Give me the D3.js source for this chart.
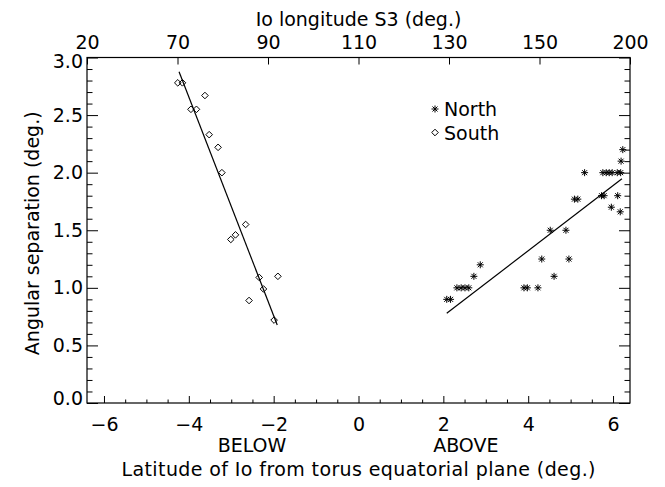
<!DOCTYPE html>
<html>
<head>
<meta charset="utf-8">
<script src="https://cdn.jsdelivr.net/npm/d3@7"></script>
<style>
  html, body { margin: 0; padding: 0; background: #fff; }
  svg text { font-family: "DejaVu Sans", sans-serif; font-size: 19px; fill: #000; }
</style>
</head>
<body>
<svg id="chart" width="665" height="487"></svg>
<script>
// Io latitude relative to the torus equator (deg) and angular separation (deg)
const northLat = [6.23, 6.19, 5.33, 5.76, 5.84, 5.91, 5.98, 6.10, 6.18,
                  5.09, 5.17, 5.73, 5.79, 6.11, 5.96, 6.17,
                  4.52, 4.89, 4.32, 4.96, 4.61, 2.87, 2.72,
                  2.32, 2.42, 2.51, 2.60, 3.90, 3.98, 4.23, 2.08, 2.17];
const northSep = [2.20, 2.10, 2.00, 2.00, 2.00, 2.00, 2.00, 2.00, 2.00,
                  1.77, 1.77, 1.80, 1.80, 1.80, 1.70, 1.66,
                  1.50, 1.50, 1.25, 1.25, 1.10, 1.20, 1.10,
                  1.00, 1.00, 1.00, 1.00, 1.00, 1.00, 1.00, 0.90, 0.90];

const southLat = [-4.26, -4.15, -3.62, -3.95, -3.82, -3.52, -3.31, -3.22,
                  -2.66, -2.90, -3.01, -2.34, -1.90, -2.24, -2.58, -1.99];
const southSep = [2.78, 2.78, 2.67, 2.55, 2.55, 2.33, 2.22, 2.00,
                  1.55, 1.46, 1.42, 1.09, 1.10, 0.99, 0.89, 0.72];

// Linear fits: [intercept, slope] and the latitude span each is drawn over
const northFit = [0.19, 0.283];
const northFitSpan = [2.08, 6.21];
const southFit = [-1.142, -0.95];
const southFitSpan = [-4.23, -1.915];

// Axes
const latDomain = [-6.4, 6.4];
const sepDomain = [0, 3];
const latTicks = [-6, -4, -2, 0, 2, 4, 6];
const sepTicks = [0, 0.5, 1.0, 1.5, 2.0, 2.5, 3.0];
const lonLabels = ["20", "70", "90", "110", "130", "150", "200"];

const legendItems = ["North", "South"];

// ---- layout ----
const svg = d3.select("#chart");
const margin = { left: 87, right: 35, top: 57.5, bottom: 84 };
const W = 665 - margin.left - margin.right;
const H = 487 - margin.top - margin.bottom;

const g = svg.append("g").attr("transform", `translate(${margin.left},${margin.top})`);

const x = d3.scaleLinear().domain(latDomain).range([0, W]);
const y = d3.scaleLinear().domain(sepDomain).range([H, 0]);
const xTop = d3.scalePoint().domain(lonLabels).range([0, W]);

const minorX = d3.range(-6, 6.01, 0.5).filter(v => !latTicks.includes(v));
const minorY = d3.range(0, 30.01, 1).map(v => v / 10).filter(v => !sepTicks.includes(v));

function style(sel) {
  sel.select(".domain").remove();
  sel.selectAll("line").attr("stroke", "#000").attr("stroke-width", 1);
  sel.selectAll("text").attr("font-family", null).attr("font-size", null).attr("fill", "#000");
}

// bottom axis
g.append("g").attr("transform", `translate(0,${H})`)
  .call(d3.axisBottom(x).tickValues(latTicks).tickSizeInner(-7).tickSizeOuter(0).tickPadding(14.5))
  .call(style);
g.append("g").attr("transform", `translate(0,${H})`)
  .call(d3.axisBottom(x).tickValues(minorX).tickFormat("").tickSizeInner(-3.5).tickSizeOuter(0))
  .call(style);

// top axis (Io System III longitude labels)
g.append("g")
  .call(d3.axisTop(xTop).tickSizeInner(-7).tickSizeOuter(0).tickPadding(9))
  .call(style);

// left axis
const leftAxis = g.append("g")
  .call(d3.axisLeft(y).tickValues(sepTicks).tickFormat(d3.format(".1f"))
    .tickSizeInner(-11).tickSizeOuter(0).tickPadding(4))
  .call(style);
// keep the end labels inside the frame
leftAxis.selectAll(".tick").filter(d => d === 3).select("text").attr("dy", "0.55em");
leftAxis.selectAll(".tick").filter(d => d === 0).select("text").attr("dy", "0.08em");
g.append("g")
  .call(d3.axisLeft(y).tickValues(minorY).tickFormat("").tickSizeInner(-5.5).tickSizeOuter(0))
  .call(style);

// right axis
g.append("g").attr("transform", `translate(${W},0)`)
  .call(d3.axisRight(y).tickValues(sepTicks).tickFormat("").tickSizeInner(-11).tickSizeOuter(0))
  .call(style);
g.append("g").attr("transform", `translate(${W},0)`)
  .call(d3.axisRight(y).tickValues(minorY).tickFormat("").tickSizeInner(-5.5).tickSizeOuter(0))
  .call(style);

// frame
g.append("rect").attr("x", 0).attr("y", 0).attr("width", W).attr("height", H)
  .attr("fill", "none").attr("stroke", "#000").attr("stroke-width", 1.2);

// titles
svg.append("text").attr("x", margin.left + W / 2).attr("y", 26)
  .attr("text-anchor", "middle").text("Io longitude S3 (deg.)");
svg.append("text").attr("x", margin.left + W / 2).attr("y", 476)
  .attr("text-anchor", "middle")
  .attr("textLength", 474).attr("lengthAdjust", "spacing")
  .text("Latitude of Io from torus equatorial plane (deg.)");
svg.append("text").attr("transform", `translate(39,${margin.top + H / 2 + 3}) rotate(-90)`)
  .attr("text-anchor", "middle").text("Angular separation (deg.)");
g.append("text").attr("x", x(-2.51)).attr("y", H + 49).attr("text-anchor", "middle").text("BELOW");
g.append("text").attr("x", x(2.53)).attr("y", H + 49).attr("text-anchor", "middle").text("ABOVE");

// symbols
const asterisk = "M-3.5,0H3.5M0,-3.5V3.5M-2.5,-2.5L2.5,2.5M-2.5,2.5L2.5,-2.5";
const diamond = "M0,-3.3L3.3,0L0,3.3L-3.3,0Z";

const north = northLat.map((v, i) => ({ lat: v, sep: northSep[i] }));
const south = southLat.map((v, i) => ({ lat: v, sep: southSep[i] }));

g.append("g").selectAll("path").data(north).join("path")
  .attr("transform", d => `translate(${x(d.lat)},${y(d.sep)})`)
  .attr("d", asterisk).attr("fill", "none").attr("stroke", "#000").attr("stroke-width", 1);

g.append("g").selectAll("path").data(south).join("path")
  .attr("transform", d => `translate(${x(d.lat)},${y(d.sep)})`)
  .attr("d", diamond).attr("fill", "none").attr("stroke", "#000").attr("stroke-width", 1);

// fitted lines
const line = d3.line().x(d => x(d[0])).y(d => y(d[1]));
function fitPoints(coef, span) { return span.map(v => [v, coef[0] + coef[1] * v]); }
g.append("path").attr("d", line(fitPoints(northFit, northFitSpan)))
  .attr("fill", "none").attr("stroke", "#000").attr("stroke-width", 1.2);
g.append("path").attr("d", line(fitPoints(southFit, southFitSpan)))
  .attr("fill", "none").attr("stroke", "#000").attr("stroke-width", 1.2);

// legend
const legend = svg.append("g").attr("transform", "translate(435,109)");
const symbols = [asterisk, diamond];
legendItems.forEach((name, i) => {
  const row = legend.append("g").attr("transform", `translate(0,${i * 23.5})`);
  row.append("path").attr("d", symbols[i]).attr("fill", "none").attr("stroke", "#000")
    .attr("stroke-width", 1);
  row.append("text").attr("x", 9).attr("y", 7).text(name);
});
</script>
</body>
</html>
